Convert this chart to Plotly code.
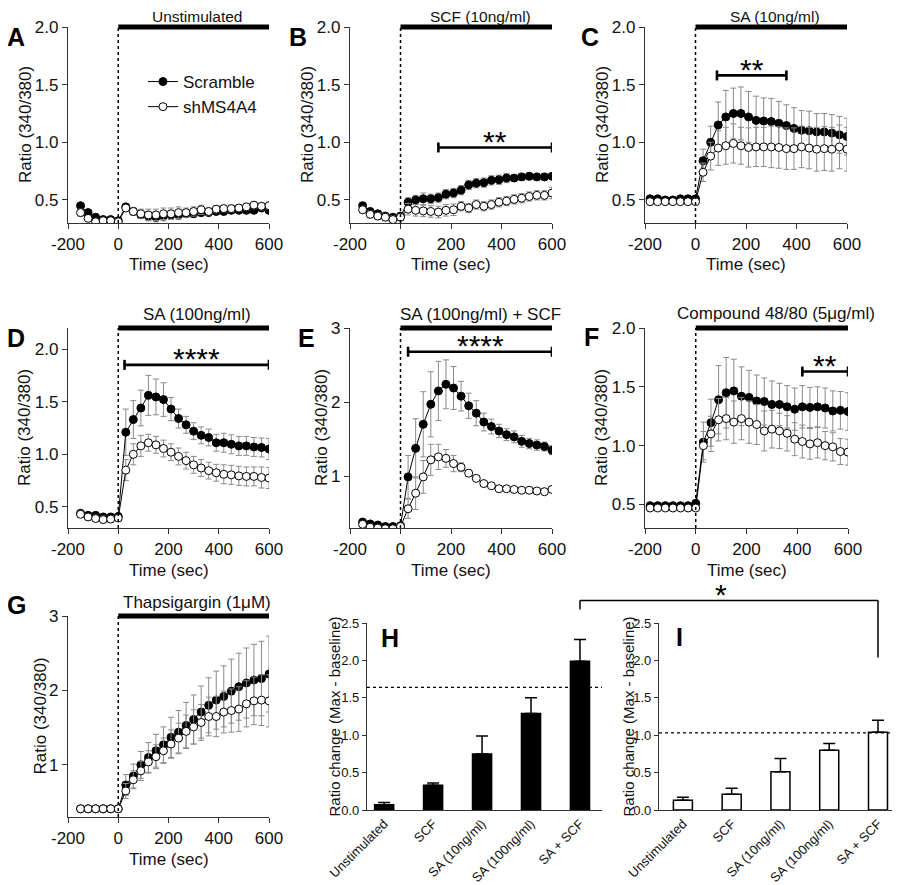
import plotly.graph_objects as go

# The page body has an 8px margin; the figure is sized so that it ends at the window edge.
OFF = 8
W, H = 900 - OFF, 885 - OFF
FONT = "Liberation Sans, Arial, sans-serif"

# ---------------- data ----------------
T26 = [-150, -120, -90, -60, -30, 0, 30, 60, 90, 120, 150, 180, 210, 240, 270,
       300, 330, 360, 390, 420, 450, 480, 510, 540, 570, 600]
T27 = [-180, -150, -120, -90, -60, -30, 0, 30, 60, 90, 120, 150, 180, 210, 240, 270,
       300, 330, 360, 390, 420, 450, 480, 510, 540, 570, 600]

a_scr = [0.45, 0.39, 0.35, 0.33, 0.33, 0.32, 0.44, 0.40, 0.37, 0.36, 0.35, 0.36, 0.37,
         0.37, 0.38, 0.38, 0.39, 0.39, 0.40, 0.40, 0.41, 0.41, 0.41, 0.41, 0.43, 0.41]
a_scr_err = [0.02, 0.02, 0.02, 0.01, 0.01, 0.02, 0.02, 0.03, 0.03, 0.04, 0.04, 0.04, 0.04,
             0.04, 0.03, 0.03, 0.03, 0.02, 0.02, 0.02, 0.02, 0.02, 0.02, 0.02, 0.02, 0.02]
a_sh = [0.39, 0.34, 0.31, 0.32, 0.32, 0.31, 0.43, 0.40, 0.38, 0.37, 0.37, 0.38, 0.38,
        0.39, 0.39, 0.40, 0.415, 0.40, 0.42, 0.425, 0.425, 0.43, 0.44, 0.455, 0.445, 0.45]
a_sh_err = [0.03, 0.02, 0.02, 0.02, 0.02, 0.02, 0.02, 0.03, 0.04, 0.05, 0.05, 0.05, 0.05,
            0.05, 0.04, 0.04, 0.04, 0.03, 0.03, 0.03, 0.03, 0.03, 0.03, 0.03, 0.03, 0.03]

b_scr = [0.45, 0.40, 0.38, 0.36, 0.35, 0.36, 0.48, 0.50, 0.51, 0.51, 0.52, 0.55, 0.56,
         0.585, 0.63, 0.645, 0.65, 0.67, 0.675, 0.69, 0.69, 0.70, 0.705, 0.70, 0.70, 0.705]
b_scr_err = [0.02, 0.02, 0.02, 0.02, 0.02, 0.03, 0.04, 0.04, 0.05, 0.04, 0.04, 0.04, 0.04,
             0.04, 0.04, 0.04, 0.04, 0.04, 0.04, 0.04, 0.03, 0.03, 0.03, 0.03, 0.03, 0.02]
b_sh = [0.415, 0.375, 0.36, 0.35, 0.33, 0.35, 0.42, 0.41, 0.405, 0.40, 0.395, 0.41, 0.415,
        0.445, 0.43, 0.46, 0.445, 0.46, 0.48, 0.49, 0.505, 0.515, 0.53, 0.54, 0.54, 0.56]
b_sh_err = [0.03, 0.03, 0.03, 0.03, 0.03, 0.03, 0.05, 0.05, 0.05, 0.05, 0.05, 0.05, 0.05,
            0.04, 0.04, 0.04, 0.04, 0.04, 0.04, 0.04, 0.04, 0.04, 0.04, 0.04, 0.04, 0.05]

c_scr = [0.51, 0.51, 0.50, 0.50, 0.51, 0.51, 0.51, 0.84, 1.00, 1.15, 1.22, 1.25, 1.25, 1.22,
         1.19, 1.185, 1.18, 1.165, 1.145, 1.12, 1.105, 1.10, 1.09, 1.09, 1.08, 1.065, 1.05]
c_scr_err = [0.01, 0.01, 0.01, 0.01, 0.01, 0.01, 0.01, 0.10, 0.14, 0.20, 0.23, 0.22, 0.23, 0.22,
             0.21, 0.20, 0.20, 0.19, 0.18, 0.18, 0.17, 0.17, 0.16, 0.16, 0.16, 0.16, 0.16]
c_sh = [0.485, 0.485, 0.485, 0.485, 0.485, 0.485, 0.485, 0.74, 0.88, 0.95, 0.97, 0.99, 0.97,
        0.955, 0.96, 0.96, 0.96, 0.955, 0.945, 0.945, 0.96, 0.95, 0.94, 0.945, 0.94, 0.96, 0.94]
c_sh_err = [0.01, 0.01, 0.01, 0.01, 0.01, 0.01, 0.01, 0.08, 0.12, 0.15, 0.16, 0.17, 0.16, 0.17,
            0.17, 0.17, 0.18, 0.18, 0.18, 0.18, 0.18, 0.18, 0.19, 0.19, 0.19, 0.19, 0.19]

d_scr = [0.44, 0.42, 0.42, 0.405, 0.405, 0.41, 1.21, 1.33, 1.44, 1.56, 1.545, 1.52, 1.43,
         1.34, 1.28, 1.22, 1.18, 1.16, 1.11, 1.11, 1.095, 1.08, 1.08, 1.07, 1.065, 1.05]
d_scr_err = [0.02, 0.02, 0.02, 0.02, 0.02, 0.02, 0.22, 0.18, 0.17, 0.19, 0.17, 0.16, 0.11,
             0.09, 0.08, 0.08, 0.08, 0.08, 0.08, 0.09, 0.09, 0.09, 0.09, 0.09, 0.09, 0.10]
d_sh = [0.43, 0.405, 0.39, 0.38, 0.385, 0.395, 0.85, 1.00, 1.08, 1.11, 1.09, 1.055, 1.02,
        0.98, 0.94, 0.90, 0.87, 0.845, 0.825, 0.81, 0.805, 0.795, 0.79, 0.79, 0.78, 0.775]
d_sh_err = [0.03, 0.03, 0.03, 0.03, 0.03, 0.03, 0.10, 0.10, 0.10, 0.08, 0.08, 0.08, 0.08,
            0.08, 0.08, 0.08, 0.08, 0.08, 0.08, 0.09, 0.09, 0.09, 0.09, 0.09, 0.10, 0.10]

e_scr = [0.38, 0.355, 0.34, 0.32, 0.32, 0.33, 0.99, 1.375, 1.70, 1.97, 2.15, 2.24, 2.19,
         2.08, 1.95, 1.85, 1.73, 1.67, 1.61, 1.56, 1.53, 1.47, 1.44, 1.42, 1.40, 1.35]
e_scr_err = [0.02, 0.02, 0.02, 0.02, 0.02, 0.02, 0.29, 0.40, 0.44, 0.44, 0.40, 0.33, 0.29,
             0.20, 0.17, 0.17, 0.12, 0.10, 0.09, 0.08, 0.08, 0.08, 0.07, 0.07, 0.06, 0.06]
e_sh = [0.35, 0.31, 0.30, 0.29, 0.29, 0.32, 0.56, 0.77, 0.99, 1.22, 1.26, 1.24, 1.17,
        1.12, 1.04, 0.97, 0.90, 0.87, 0.83, 0.83, 0.82, 0.81, 0.81, 0.80, 0.79, 0.82]
e_sh_err = [0.02, 0.02, 0.02, 0.02, 0.02, 0.02, 0.13, 0.22, 0.22, 0.21, 0.17, 0.12, 0.11,
            0.06, 0.04, 0.03, 0.03, 0.03, 0.03, 0.03, 0.03, 0.03, 0.03, 0.03, 0.03, 0.03]

f_scr = [0.49, 0.49, 0.49, 0.49, 0.49, 0.49, 0.51, 1.03, 1.195, 1.39, 1.45, 1.465, 1.42, 1.41,
         1.38, 1.375, 1.35, 1.35, 1.33, 1.31, 1.33, 1.325, 1.33, 1.32, 1.295, 1.30, 1.29]
f_scr_err = [0.01, 0.01, 0.01, 0.01, 0.01, 0.01, 0.01, 0.17, 0.20, 0.29, 0.30, 0.27, 0.25, 0.23,
             0.22, 0.20, 0.20, 0.18, 0.18, 0.18, 0.18, 0.17, 0.17, 0.17, 0.17, 0.16, 0.16]
f_sh = [0.47, 0.47, 0.47, 0.47, 0.47, 0.47, 0.47, 1.00, 1.10, 1.22, 1.23, 1.20, 1.23, 1.20,
        1.18, 1.125, 1.14, 1.125, 1.105, 1.055, 1.035, 1.015, 1.025, 1.00, 0.99, 0.95, 0.945]
f_sh_err = [0.01, 0.01, 0.01, 0.01, 0.01, 0.01, 0.01, 0.12, 0.15, 0.18, 0.18, 0.18, 0.18, 0.18,
            0.17, 0.17, 0.16, 0.15, 0.15, 0.14, 0.14, 0.13, 0.13, 0.12, 0.12, 0.11, 0.11]

g_scr = [0.41, 0.41, 0.41, 0.41, 0.41, 0.41, 0.73, 0.85, 1.00, 1.10, 1.19, 1.27, 1.37,
         1.44, 1.53, 1.61, 1.71, 1.80, 1.87, 1.92, 1.99, 2.05, 2.10, 2.14, 2.16, 2.22]
g_scr_err = [0.01, 0.01, 0.01, 0.01, 0.01, 0.01, 0.14, 0.16, 0.18, 0.20, 0.22, 0.24, 0.27,
             0.29, 0.31, 0.33, 0.35, 0.37, 0.39, 0.41, 0.43, 0.45, 0.47, 0.48, 0.50, 0.51]
g_sh = [0.41, 0.41, 0.41, 0.41, 0.41, 0.41, 0.65, 0.80, 0.92, 1.04, 1.11, 1.19, 1.28,
        1.36, 1.45, 1.51, 1.57, 1.65, 1.65, 1.71, 1.73, 1.75, 1.82, 1.86, 1.87, 1.86]
g_sh_err = [0.01, 0.01, 0.01, 0.01, 0.01, 0.01, 0.10, 0.12, 0.13, 0.15, 0.16, 0.17, 0.19,
            0.20, 0.22, 0.23, 0.24, 0.26, 0.27, 0.28, 0.29, 0.30, 0.31, 0.32, 0.34, 0.35]

bar_categories = ["Unstimulated", "SCF", "SA (10ng/ml)", "SA (100ng/ml)", "SA + SCF"]
h_values = [0.07, 0.33, 0.75, 1.29, 1.99]
h_errors = [0.03, 0.03, 0.24, 0.21, 0.29]
i_values = [0.13, 0.21, 0.51, 0.80, 1.04]
i_errors = [0.04, 0.08, 0.18, 0.09, 0.16]
h_threshold = 1.64
i_threshold = 1.03

series_names = ["Scramble", "shMS4A4"]
time_ticks = [-200, 0, 200, 400, 600]
time_tick_labels = ["-200", "0", "200", "400", "600"]


# ---------------- layout helpers (page pixels -> paper fraction) ----------------
def px(x):
    return (x - OFF) / W


def py(y):
    return 1 - (y - OFF) / H


def sfx(n):
    return "" if n == 1 else str(n)


panels = [
    dict(n=1, t=T26, s=a_scr, se=a_scr_err, k=a_sh, ke=a_sh_err, xd=(68, 269), yd=(27, 223),
         yr=(0.3, 2.0), yt=[0.5, 1.0, 1.5, 2.0], fmt=".1f", title="Unstimulated", letter="A",
         lp=(16, 37), yoff=43, br=None, ty=16.5, tf=15.5),
    dict(n=2, t=T26, s=b_scr, se=b_scr_err, k=b_sh, ke=b_sh_err, xd=(350, 552), yd=(27, 223),
         yr=(0.3, 2.0), yt=[0.5, 1.0, 1.5, 2.0], fmt=".1f", title="SCF (10ng/ml)", letter="B",
         lp=(298, 37), yoff=43, br=(150, 600, 0.955, "**"), ty=16.5, tf=15.5),
    dict(n=3, t=T27, s=c_scr, se=c_scr_err, k=c_sh, ke=c_sh_err, xd=(645, 847), yd=(27, 223),
         yr=(0.3, 2.0), yt=[0.5, 1.0, 1.5, 2.0], fmt=".1f", title="SA (10ng/ml)", letter="C",
         lp=(590, 37), yoff=43, br=(85, 360, 1.58, "**"), ty=16.5, tf=15.5),
    dict(n=4, t=T26, s=d_scr, se=d_scr_err, k=d_sh, ke=d_sh_err, xd=(68, 269), yd=(328, 528),
         yr=(0.3, 2.2), yt=[0.5, 1.0, 1.5, 2.0], fmt=".1f", title="SA (100ng/ml)", letter="D",
         lp=(16, 338), yoff=43, br=(25, 600, 1.85, "****"), ty=315, tf=17),
    dict(n=5, t=T26, s=e_scr, se=e_scr_err, k=e_sh, ke=e_sh_err, xd=(350, 552), yd=(328, 528),
         yr=(0.3, 3.0), yt=[1, 2, 3], fmt="d", title="SA (100ng/ml) + SCF", letter="E",
         lp=(306, 338), yoff=28, br=(30, 600, 2.68, "****"), ty=315, tf=17),
    dict(n=6, t=T27, s=f_scr, se=f_scr_err, k=f_sh, ke=f_sh_err, xd=(645, 848), yd=(328, 528),
         yr=(0.3, 2.0), yt=[0.5, 1.0, 1.5, 2.0], fmt=".1f", title="Compound 48/80 (5μg/ml)",
         letter="F", lp=(591, 337), yoff=43, br=(420, 600, 1.63, "**"), ty=313, tf=17),
    dict(n=7, t=T26, s=g_scr, se=g_scr_err, k=g_sh, ke=g_sh_err, xd=(68, 269), yd=(616, 817),
         yr=(0.3, 3.0), yt=[1, 2, 3], fmt="d", title="Thapsigargin (1μM)", letter="G",
         lp=(16, 605), yoff=28, br=None, ty=602, tf=17),
]

TXT = 17
AX = dict(showline=True, linecolor="#333", linewidth=1.3, ticks="outside", ticklen=5,
          tickwidth=1.3, tickcolor="#333", showgrid=False, zeroline=False, automargin=False,
          tickfont=dict(family=FONT, size=TXT, color="#111"))

fig = go.Figure()
layout = dict(template="none", width=W, height=H, margin=dict(l=0, r=0, t=0, b=0, pad=0),
              plot_bgcolor="white", paper_bgcolor="white",
              font=dict(family=FONT, color="#111"))
shapes = []
annotations = []
ERRC = "#8a8a8a"

for p in panels:
    n = p["n"]
    s = sfx(n)
    xa, ya = "x" + s, "y" + s
    layout["xaxis" + s] = dict(AX, domain=[px(p["xd"][0]), px(p["xd"][1])], range=[-200, 600],
                               tickvals=time_ticks, ticktext=time_tick_labels, anchor=ya)
    layout["yaxis" + s] = dict(AX, domain=[py(p["yd"][1]), py(p["yd"][0])], range=list(p["yr"]),
                               tickvals=p["yt"], tickformat=p["fmt"], anchor=xa)
    fig.add_trace(go.Scatter(
        x=p["t"], y=p["s"], xaxis=xa, yaxis=ya, name=series_names[0], mode="lines+markers",
        line=dict(color="black", width=1),
        marker=dict(symbol="circle", size=8, color="black", line=dict(color="black", width=1)),
        error_y=dict(type="data", array=p["se"], color=ERRC, thickness=1, width=3),
        showlegend=(n == 1), legendgroup="scr"))
    fig.add_trace(go.Scatter(
        x=p["t"], y=p["k"], xaxis=xa, yaxis=ya, name=series_names[1], mode="lines+markers",
        line=dict(color="black", width=1),
        marker=dict(symbol="circle", size=8, color="white", line=dict(color="black", width=1)),
        error_y=dict(type="data", array=p["ke"], color=ERRC, thickness=1, width=3),
        showlegend=(n == 1), legendgroup="sh"))
    # stimulus onset dotted line
    shapes.append(dict(type="line", xref=xa, yref=ya + " domain", x0=0, x1=0, y0=0, y1=1,
                       line=dict(color="black", width=1.5, dash="dot")))
    # stimulus bar
    shapes.append(dict(type="line", xref=xa, yref=ya + " domain", x0=0, x1=610, y0=1.0, y1=1.0,
                       line=dict(color="black", width=5)))
    # title
    annotations.append(dict(xref=xa, yref="paper", x=315, y=py(p["ty"]), yanchor="middle",
                            text=p["title"], showarrow=False,
                            font=dict(size=p["tf"], family=FONT, color="#111")))
    # panel letter
    annotations.append(dict(xref="paper", yref="paper", x=px(p["lp"][0]), y=py(p["lp"][1]),
                            xanchor="center", yanchor="middle", text="<b>%s</b>" % p["letter"],
                            showarrow=False, font=dict(size=25, family=FONT, color="black")))
    # axis titles
    xc = (p["xd"][0] + p["xd"][1]) / 2
    yc = (p["yd"][0] + p["yd"][1]) / 2
    annotations.append(dict(xref="paper", yref="paper", x=px(xc), y=py(p["yd"][1] + 42),
                            xanchor="center", yanchor="middle", text="Time (sec)",
                            showarrow=False, font=dict(size=TXT, family=FONT, color="#111")))
    annotations.append(dict(xref="paper", yref="paper", x=px(p["xd"][0] - p["yoff"]), y=py(yc),
                            xanchor="center", yanchor="middle", text="Ratio (340/380)",
                            textangle=-90, showarrow=False,
                            font=dict(size=TXT, family=FONT, color="#111")))
    # significance bracket
    if p["br"]:
        x0, x1, yv, stars = p["br"]
        r0, r1 = p["yr"]
        hpx = p["yd"][1] - p["yd"][0]
        yf = (yv - r0) / (r1 - r0)
        cap = 5 / hpx
        for a, b, c, d in [(x0, x1, yf, yf), (x0, x0, yf - cap, yf + cap), (x1, x1, yf - cap, yf + cap)]:
            shapes.append(dict(type="line", xref=xa, yref=ya + " domain", x0=a, x1=b, y0=c, y1=d,
                               line=dict(color="black", width=2.6)))
        annotations.append(dict(xref=xa, yref=ya + " domain", x=(x0 + x1) / 2, y=yf,
                                yanchor="middle", yshift=6, text=stars, showarrow=False,
                                font=dict(size=30, family=FONT, color="black")))

# ---------------- bar panels H and I ----------------
bar_panels = [
    dict(n=8, vals=h_values, errs=h_errors, fill="black", xd=(367, 602), xr=(-0.35, 4.45),
         thr=h_threshold, letter="H", lp=(390, 638), yoff=33),
    dict(n=9, vals=i_values, errs=i_errors, fill="white", xd=(659, 898), xr=(-0.49, 4.41),
         thr=i_threshold, letter="I", lp=(679, 637), yoff=31),
]
BYD = (623, 810)
BAR_AX = dict(AX, tickfont=dict(family=FONT, size=13, color="#111"))
for p in bar_panels:
    n = p["n"]
    s = sfx(n)
    xa, ya = "x" + s, "y" + s
    layout["xaxis" + s] = dict(BAR_AX, domain=[px(p["xd"][0]), px(p["xd"][1])], type="category",
                               range=list(p["xr"]), ticks="", tickangle=-45, anchor=ya,
                               tickfont=dict(family=FONT, size=13, color="#111"))
    layout["yaxis" + s] = dict(BAR_AX, domain=[py(BYD[1]), py(BYD[0])], range=[0, 2.5],
                               tickvals=[0, 0.5, 1.0, 1.5, 2.0, 2.5], tickformat=".1f",
                               ticklen=4, anchor=xa)
    fig.add_trace(go.Bar(
        x=bar_categories, y=p["vals"], xaxis=xa, yaxis=ya, width=0.39, showlegend=False,
        marker=dict(color=p["fill"], line=dict(color="black", width=1.5)),
        error_y=dict(type="data", array=p["errs"], arrayminus=[0] * len(p["errs"]),
                     symmetric=False, color="black", thickness=1.5, width=6)))
    shapes.append(dict(type="line", xref=xa, yref=ya, x0=p["xr"][0], x1=p["xr"][1],
                       y0=p["thr"], y1=p["thr"], line=dict(color="black", width=1.2, dash="dot")))
    annotations.append(dict(xref="paper", yref="paper", x=px(p["lp"][0]), y=py(p["lp"][1]),
                            xanchor="center", yanchor="middle", text="<b>%s</b>" % p["letter"],
                            showarrow=False, font=dict(size=25, family=FONT, color="black")))
    annotations.append(dict(xref="paper", yref="paper", x=px(p["xd"][0] - p["yoff"]),
                            y=py((BYD[0] + BYD[1]) / 2), xanchor="center", yanchor="middle",
                            text="Ratio change (Max - baseline)", textangle=-90, showarrow=False,
                            font=dict(size=15, family=FONT, color="#111")))


def cat_paper(p, idx):
    x0, x1 = p["xd"]
    r0, r1 = p["xr"]
    return px(x0 + (idx - r0) / (r1 - r0) * (x1 - x0))


# comparison bracket between H and I (SA + SCF)
bk_top, bk_left_end, bk_right_end = 2.80, 2.68, 2.04
xl = cat_paper(bar_panels[0], 4)
xr = cat_paper(bar_panels[1], 4)
shapes.append(dict(type="line", xref="paper", yref="y8 domain", x0=xl, x1=xr,
                   y0=bk_top / 2.5, y1=bk_top / 2.5, line=dict(color="black", width=1.5)))
shapes.append(dict(type="line", xref="x8", yref="y8 domain", x0=4, x1=4,
                   y0=bk_left_end / 2.5, y1=bk_top / 2.5, line=dict(color="black", width=1.5)))
shapes.append(dict(type="line", xref="x9", yref="y9 domain", x0=4, x1=4,
                   y0=bk_right_end / 2.5, y1=bk_top / 2.5, line=dict(color="black", width=1.5)))
annotations.append(dict(xref="paper", yref="y8 domain", x=(xl + xr) / 2, y=bk_top / 2.5,
                        yanchor="middle", yshift=6, text="*", showarrow=False,
                        font=dict(size=30, family=FONT, color="black")))

layout["shapes"] = shapes
layout["annotations"] = annotations
layout["legend"] = dict(x=px(143), y=py(64), xanchor="left", yanchor="top",
                        bgcolor="rgba(0,0,0,0)", font=dict(size=TXT, family=FONT, color="#111"),
                        tracegroupgap=0, itemwidth=30)
fig.update_layout(**layout)
fig.write_html("out.html")
